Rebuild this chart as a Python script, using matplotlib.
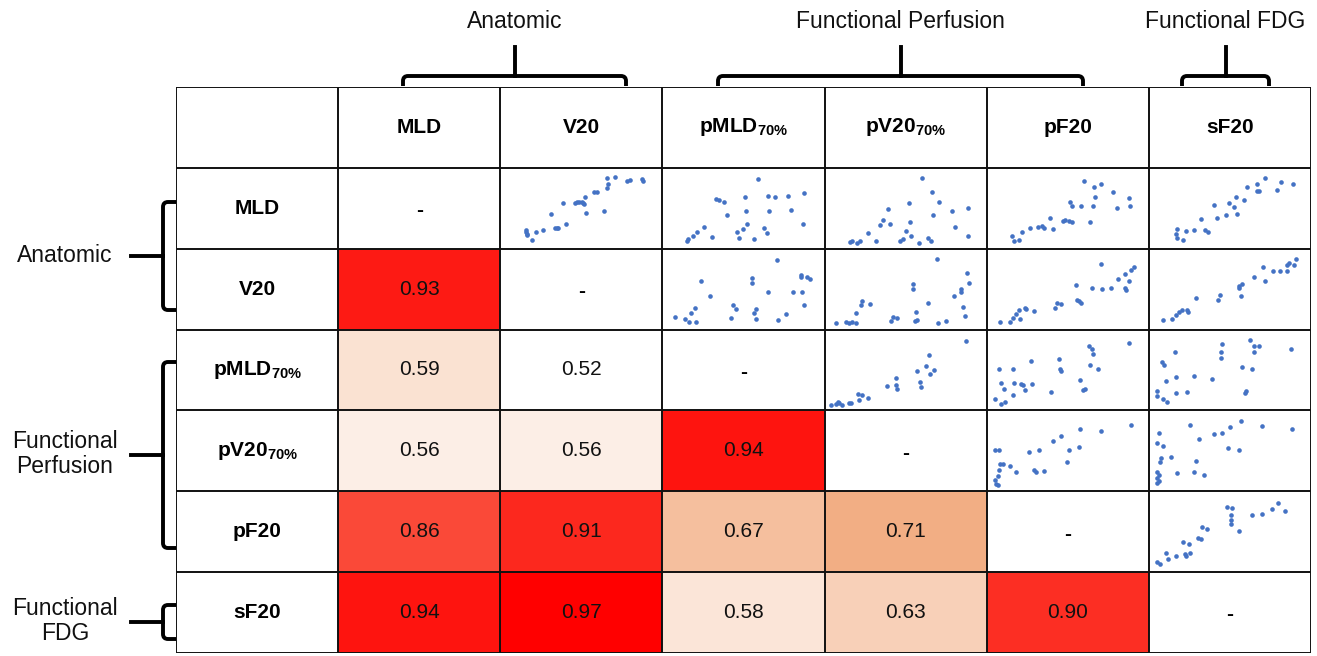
import matplotlib
matplotlib.use("Agg")
import numpy as np
import matplotlib.pyplot as plt
from matplotlib.colors import LinearSegmentedColormap, Normalize
from matplotlib.path import Path
from matplotlib.patches import PathPatch

plt.rcParams['font.family'] = ['Liberation Sans', 'DejaVu Sans']
plt.rcParams['mathtext.fontset'] = 'custom'
plt.rcParams['mathtext.rm'] = 'Liberation Sans'
plt.rcParams['mathtext.bf'] = 'Liberation Sans:bold'

# metric names (rows and columns)
metrics = ['MLD', 'V20', r'pMLD$_{\mathbf{70\%}}$', r'pV20$_{\mathbf{70\%}}$', 'pF20', 'sF20']

# groups
groups = ['Anatomic', 'Functional Perfusion', 'Functional FDG']
group_rows_label = ['Anatomic', 'Functional\nPerfusion', 'Functional\nFDG']

# lower triangle correlation values
corr_v20 = [0.93]
corr_pmld = [0.59, 0.52]
corr_pv20 = [0.56, 0.56, 0.94]
corr_pf20 = [0.86, 0.91, 0.67, 0.71]
corr_sf20 = [0.94, 0.97, 0.58, 0.63, 0.90]

# scatter points of the upper triangle (x right, y down)
mld_v20 = [(26, 62), (26, 64), (27, 66), (27, 67), (32, 72), (36, 64), (43, 62), (51, 46),
           (55, 60), (57, 60), (58, 60), (63, 35), (66, 56), (75, 35), (77, 34), (79, 34),
           (82, 34), (83, 35), (84, 36), (85, 29), (86, 45), (94, 24), (97, 24), (104, 43),
           (107, 20), (108, 16), (107, 10), (115, 9), (127, 13), (130, 12), (142, 11), (143, 13)]
mld_pmld = [(25, 73), (26, 71), (31, 68), (35, 64), (42, 59), (50, 69), (54, 31), (57, 32),
            (62, 34), (65, 47), (75, 64), (77, 70), (81, 61), (83, 29), (84, 43), (85, 56),
            (92, 71), (96, 11), (102, 60), (105, 65), (106, 28), (107, 43), (113, 29),
            (126, 28), (129, 42), (141, 56), (142, 25)]
mld_pv20 = [(25, 74), (27, 73), (32, 75), (35, 73), (43, 65), (51, 73), (55, 57), (58, 52),
            (63, 41), (65, 56), (75, 73), (78, 71), (81, 63), (84, 35), (85, 54), (86, 68),
            (94, 75), (97, 10), (103, 70), (106, 73), (107, 24), (108, 47), (114, 34),
            (127, 43), (130, 59), (143, 68), (143, 40)]
mld_pf20 = [(25, 68), (27, 73), (32, 72), (35, 64), (43, 60), (51, 59), (55, 58), (57, 60),
            (63, 50), (66, 61), (76, 53), (78, 52), (82, 53), (85, 54), (83, 34), (85, 38),
            (94, 38), (97, 13), (103, 54), (106, 38), (107, 19), (108, 29), (114, 16),
            (126, 24), (130, 40), (142, 30), (143, 38)]
mld_sf20 = [(28, 61), (27, 66), (28, 70), (34, 72), (37, 63), (45, 62), (56, 62), (59, 64),
            (52, 51), (65, 37), (68, 50), (77, 47), (80, 35), (85, 39), (87, 29), (88, 46),
            (95, 32), (98, 19), (108, 16), (108, 23), (110, 23), (116, 10), (128, 22),
            (132, 14), (144, 16)]
v20_pmld = [(13, 68), (23, 70), (27, 73), (29, 64), (33, 59), (34, 73), (39, 32), (48, 47),
            (69, 69), (71, 56), (74, 60), (90, 29), (90, 34), (92, 64), (94, 60), (94, 70),
            (106, 43), (115, 11), (116, 71), (124, 65), (131, 43), (139, 26), (139, 28),
            (140, 43), (142, 56), (145, 28), (148, 30)]
v20_pv20 = [(11, 74), (21, 73), (24, 74), (27, 73), (31, 74), (31, 64), (36, 56), (37, 52),
            (45, 55), (66, 72), (68, 68), (72, 69), (88, 35), (88, 40), (90, 72), (91, 63),
            (92, 71), (103, 54), (112, 10), (113, 74), (121, 72), (129, 47), (136, 40),
            (136, 43), (138, 58), (140, 67), (142, 24), (144, 34)]
v20_pf20 = [(13, 73), (23, 73), (26, 69), (29, 65), (32, 61), (33, 70), (38, 59), (39, 60),
            (47, 62), (68, 59), (70, 54), (74, 55), (89, 36), (90, 51), (92, 52), (94, 54),
            (105, 39), (114, 15), (115, 40), (124, 39), (131, 30), (138, 25), (138, 39),
            (139, 41), (142, 32), (144, 21), (147, 18)]
v20_sf20 = [(14, 71), (23, 70), (27, 66), (30, 63), (33, 61), (38, 61), (39, 63), (47, 49),
            (69, 51), (71, 46), (90, 39), (90, 37), (93, 35), (92, 47), (105, 28), (114, 18),
            (116, 32), (124, 22), (131, 22), (138, 22), (138, 16), (140, 14), (145, 16),
            (147, 10)]
pmld_pv20 = [(6, 75), (11, 74), (13, 72), (14, 73), (17, 75), (24, 73), (26, 73), (33, 64),
             (37, 65), (34, 70), (43, 68), (62, 56), (71, 48), (71, 55), (72, 59), (92, 41),
             (95, 52), (96, 57), (101, 36), (104, 25), (105, 44), (109, 40), (141, 11)]
pmld_pf20 = [(8, 69), (14, 74), (18, 72), (12, 39), (14, 53), (17, 59), (26, 65), (27, 53),
             (26, 39), (34, 54), (36, 55), (38, 60), (44, 31), (45, 54), (64, 62), (72, 29),
             (73, 39), (74, 41), (93, 50), (96, 60), (98, 59), (102, 16), (105, 19), (106, 24),
             (103, 35), (111, 39), (142, 13)]
pmld_sf20 = [(8, 61), (8, 66), (13, 32), (15, 35), (14, 69), (18, 72), (17, 51), (26, 22),
             (27, 47), (27, 63), (38, 62), (45, 46), (63, 49), (73, 14), (72, 22), (72, 28),
             (93, 37), (96, 63), (97, 61), (101, 10), (105, 16), (105, 22), (110, 16),
             (103, 39), (142, 19)]
pv20_pf20 = [(8, 70), (9, 74), (11, 75), (11, 66), (12, 60), (13, 54), (16, 54), (8, 40),
             (12, 40), (23, 56), (29, 62), (42, 42), (47, 60), (49, 62), (52, 40), (57, 61),
             (66, 31), (74, 26), (80, 52), (82, 40), (92, 37), (93, 19), (114, 21), (144, 15)]
pv20_sf20 = [(8, 73), (10, 71), (8, 68), (10, 65), (8, 62), (11, 52), (12, 48), (8, 33),
             (10, 23), (14, 36), (22, 47), (28, 63), (41, 15), (45, 62), (47, 51), (50, 29),
             (55, 65), (65, 24), (73, 23), (79, 38), (81, 17), (90, 40), (92, 11), (113, 16),
             (143, 19)]
pf20_sf20 = [(8, 71), (11, 73), (17, 62), (19, 68), (27, 65), (36, 63), (37, 65), (41, 62),
             (34, 51), (40, 53), (49, 47), (52, 48), (53, 36), (58, 38), (78, 16), (83, 17),
             (82, 24), (82, 29), (82, 33), (90, 40), (103, 24), (113, 23), (123, 18),
             (129, 12), (136, 20)]

upper_cells = {
    (0, 1): mld_v20, (0, 2): mld_pmld, (0, 3): mld_pv20, (0, 4): mld_pf20, (0, 5): mld_sf20,
    (1, 2): v20_pmld, (1, 3): v20_pv20, (1, 4): v20_pf20, (1, 5): v20_sf20,
    (2, 3): pmld_pv20, (2, 4): pmld_pf20, (2, 5): pmld_sf20,
    (3, 4): pv20_pf20, (3, 5): pv20_sf20,
    (4, 5): pf20_sf20,
}

W, H = 1317, 656
fig = plt.figure(figsize=(W / 100, H / 100), dpi=100)

# overlay axes in pixel coordinates for brackets and group labels
bg = fig.add_axes([0, 0, 1, 1])
bg.set_xlim(0, W)
bg.set_ylim(H, 0)
bg.axis('off')

# table geometry (pixels)
tx0, tx1, ty0, ty1 = 176, 1311, 87, 653
n = len(metrics) + 1
cw = (tx1 - tx0) / n
ch = (ty1 - ty0) / n

ax = fig.add_axes([tx0 / W, 1 - ty1 / H, (tx1 - tx0) / W, (ty1 - ty0) / H])
ax.set_xlim(0, n)
ax.set_ylim(n, 0)
ax.axis('off')

# correlation matrix (lower triangle only)
lower = [corr_v20, corr_pmld, corr_pv20, corr_pf20, corr_sf20]
mat = np.full((6, 6), np.nan)
for i, row in enumerate(lower):
    mat[i + 1, :len(row)] = row

cmap = LinearSegmentedColormap.from_list(
    'wor', [(0.0, '#FFFFFF'), ((0.71 - 0.52) / (0.97 - 0.52), '#F2AE84'), (1.0, '#FF0000')])
cmap.set_bad('white')
norm = Normalize(vmin=0.52, vmax=0.97)
edges = np.arange(1, n + 1)
ax.pcolormesh(edges, edges, np.ma.masked_invalid(mat), cmap=cmap, norm=norm)

# grid lines
for k in range(n + 1):
    ax.plot([0, n], [k, k], color='#111111', lw=1.4, solid_capstyle='projecting', zorder=3)
    ax.plot([k, k], [0, n], color='#111111', lw=1.4, solid_capstyle='projecting', zorder=3)

# header row and column
for i, m in enumerate(metrics):
    ax.text(i + 1.5, 0.5, m, ha='center', va='center', fontsize=15, fontweight='bold')
    ax.text(0.5, i + 1.5, m, ha='center', va='center', fontsize=15, fontweight='bold')

# cells
for i in range(6):
    for j in range(6):
        if i == j:
            ax.text(j + 1.5, i + 1.53, '-', ha='center', va='center', fontsize=15, fontweight='bold')
        elif i > j:
            ax.text(j + 1.5, i + 1.5, f'{mat[i, j]:.2f}', ha='center', va='center',
                    fontsize=15, color='#111111')

# scatter cells
for (i, j), pts in upper_cells.items():
    left = tx0 + (j + 1) * cw
    top = ty0 + (i + 1) * ch
    sub = fig.add_axes([left / W, 1 - (top + ch) / H, cw / W, ch / H])
    sub.set_xlim(0, cw)
    sub.set_ylim(ch, 0)
    sub.axis('off')
    xs = [p[0] for p in pts]
    ys = [p[1] for p in pts]
    sub.scatter(xs, ys, s=11, color='#4472C4', linewidths=0)


def top_bracket(x0, x1, xs, y_top, y_bar, y_end, r=5):
    verts = [(x0, y_end), (x0, y_bar + r), (x0, y_bar), (x0 + r, y_bar),
             (x1 - r, y_bar), (x1, y_bar), (x1, y_bar + r), (x1, y_end)]
    codes = [Path.MOVETO, Path.LINETO, Path.CURVE3, Path.CURVE3,
             Path.LINETO, Path.CURVE3, Path.CURVE3, Path.LINETO]
    bg.add_patch(PathPatch(Path(verts, codes), fill=False, lw=2.8, color='black'))
    bg.plot([xs, xs], [y_top, y_bar], color='black', lw=2.8)


def left_bracket(y0, y1, ys, x_stem, x_bar, x_end, r=5):
    verts = [(x_end, y0), (x_bar + r, y0), (x_bar, y0), (x_bar, y0 + r),
             (x_bar, y1 - r), (x_bar, y1), (x_bar + r, y1), (x_end, y1)]
    codes = [Path.MOVETO, Path.LINETO, Path.CURVE3, Path.CURVE3,
             Path.LINETO, Path.CURVE3, Path.CURVE3, Path.LINETO]
    bg.add_patch(PathPatch(Path(verts, codes), fill=False, lw=2.8, color='black'))
    bg.plot([x_stem, x_bar], [ys, ys], color='black', lw=2.8)


# top group brackets
top_ranges = [(403, 626), (718, 1083), (1182, 1269)]
for label, (a, b) in zip(groups, top_ranges):
    mid = (a + b) / 2
    top_bracket(a, b, mid, 47, 76, 86)
    bg.text(mid, 21, label, ha='center', va='center', fontsize=16.5, color='#111111')

# left group brackets
left_ranges = [(202, 310), (362, 548), (605, 639)]
for label, (a, b) in zip(group_rows_label, left_ranges):
    mid = (a + b) / 2
    left_bracket(a, b, mid, 131, 163, 176)
    bg.text(65, mid - 1, label, ha='center', va='center', fontsize=16.5, color='#111111',
            multialignment='center', linespacing=1.15)

fig.savefig('out.png', dpi=100)
